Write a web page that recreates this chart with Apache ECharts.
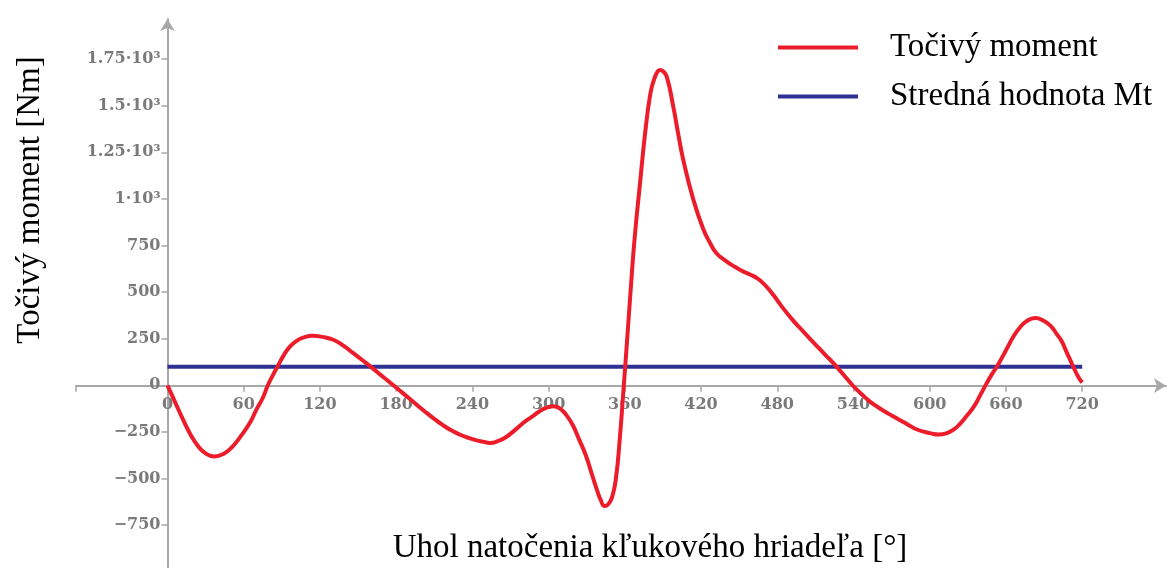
<!DOCTYPE html>
<html>
<head>
<meta charset="utf-8">
<script src="https://cdn.jsdelivr.net/npm/echarts@6/dist/echarts.min.js"></script>
<style>
html,body{margin:0;padding:0;background:#fff;}
#chart{width:1175px;height:568px;}
</style>
</head>
<body>
<div id="chart"></div>
<script>
// Crank angle [deg] and torque [Nm]
const angles = [0,6,12,18,24,30,37,44,51,58,65,70,75,79,83,87,91,96,102,108,114,122,131,139,146,153,160,167,174,180,186,192,198,204,210,216,223,230,236,242,248,254,260,266,273,280,287,293,299,304,309,314,319,324,329,334,338,341,344,347,350,353,356,359,362,365,368,372,376,380,383,386,388,390,393,398,402,406,414,422,427,432,440,446,452,459,464,469,473,477,481,485,490,495,500,506,512,518,524,532,540,546,552,558,564,570,575,580,585,590,596,601,607,613,619,624,629,635,640,645,649,653,657,661,666,671,676,683,690,695,700,704,708,711,714,717,720];
const torque = [0,-90,-180,-262,-325,-365,-382,-368,-330,-270,-200,-130,-68,0,55,105,155,205,240,258,266,260,243,210,174,137,100,60,22,-12,-46,-80,-115,-148,-180,-210,-240,-264,-280,-293,-302,-309,-300,-280,-243,-202,-168,-139,-118,-112,-125,-160,-213,-290,-370,-475,-560,-615,-648,-638,-600,-500,-290,-20,260,550,810,1085,1353,1560,1640,1685,1692,1685,1656,1500,1350,1210,995,834,765,710,665,638,615,593,575,547,518,484,447,410,368,328,292,248,205,162,120,58,-5,-45,-82,-112,-138,-162,-181,-200,-220,-237,-250,-258,-264,-258,-237,-205,-165,-112,-50,13,60,102,150,200,263,310,343,361,345,320,275,235,174,130,85,45,15];
const meanAngles = [0, 720];
const meanTorque = [100, 100];
const xTickLabels = [0,60,120,180,240,300,360,420,480,540,600,660,720];
const yTickLabels = [-750,-500,-250,0,250,500,750,1000,1250,1500,1750];
const seriesNames = ['Točivý moment', 'Stredná hodnota Mt'];
const xTitle = 'Uhol natočenia kľukového hriadeľa [°]';
const yTitle = 'Točivý moment [Nm]';

function fmtY(v) {
  if (v >= 1000) return String(v / 1000) + '·10³';
  if (v < 0) return '−' + String(-v);
  return String(v);
}

const chart = echarts.init(document.getElementById('chart'), null, {renderer: 'canvas'});
const axisGray = '#a8a8a8';
const labelStyle = {
  fontFamily: 'DejaVu Serif',
  fontWeight: 'bold',
  fontSize: 16,
  color: '#7a7a7a'
};
// grid: x from 76 to 1166 px, y from 19 to 568 px; zero lines at x=167.5, y=385.7
chart.setOption({
  animation: false,
  backgroundColor: '#ffffff',
  grid: {left: 76, width: 1090, top: 19, height: 549, containLabel: false, outerBoundsMode: 'none'},
  xAxis: {
    type: 'value',
    min: -72,
    max: 786,
    position: 'bottom',
    offset: -182.3,
    axisLine: {show: true, onZero: false, symbol: ['none', 'arrow'], symbolSize: [11, 12], lineStyle: {color: axisGray, width: 2}},
    axisTick: {show: true, length: 6, customValues: [-72].concat(xTickLabels), lineStyle: {color: axisGray, width: 1.5}},
    axisLabel: Object.assign({customValues: xTickLabels, margin: 11, formatter: v => String(v)}, labelStyle),
    splitLine: {show: false}
  },
  yAxis: {
    type: 'value',
    min: -980,
    max: 1965,
    position: 'left',
    offset: -91.5,
    axisLine: {show: true, onZero: false, symbol: ['none', 'arrow'], symbolSize: [11, 12], lineStyle: {color: axisGray, width: 2}},
    axisTick: {show: true, length: 6, customValues: yTickLabels, lineStyle: {color: axisGray, width: 1.5}},
    axisLabel: Object.assign({customValues: yTickLabels, margin: 7, formatter: fmtY}, labelStyle),
    splitLine: {show: false}
  },
  legend: {
    orient: 'vertical',
    left: 773,
    top: 26,
    icon: 'rect',
    itemWidth: 80,
    itemHeight: 4,
    itemGap: 16,
    textStyle: {fontFamily: 'Liberation Serif', fontSize: 33, color: '#000', padding: [0, 0, 0, 27], lineHeight: 33},
    data: seriesNames
  },
  graphic: [
    {type: 'text', x: 30, y: 200, rotation: Math.PI / 2,
     style: {text: yTitle, font: '33px "Liberation Serif"', fill: '#000', align: 'center', verticalAlign: 'middle'}},
    {type: 'text', x: 650, y: 548,
     style: {text: xTitle, font: '33px "Liberation Serif"', fill: '#000', align: 'center', verticalAlign: 'middle'}}
  ],
  series: [
    {
      name: seriesNames[0],
      type: 'line',
      smooth: 0.5,
      symbol: 'none',
      lineStyle: {color: '#ec1c2a', width: 4},
      itemStyle: {color: '#ec1c2a'},
      data: angles.map((a, i) => [a, torque[i]]),
      z: 3
    },
    {
      name: seriesNames[1],
      type: 'line',
      symbol: 'none',
      lineStyle: {color: '#2e3192', width: 4},
      itemStyle: {color: '#2e3192'},
      data: meanAngles.map((a, i) => [a, meanTorque[i]]),
      z: 2
    }
  ]
});
</script>
</body>
</html>
